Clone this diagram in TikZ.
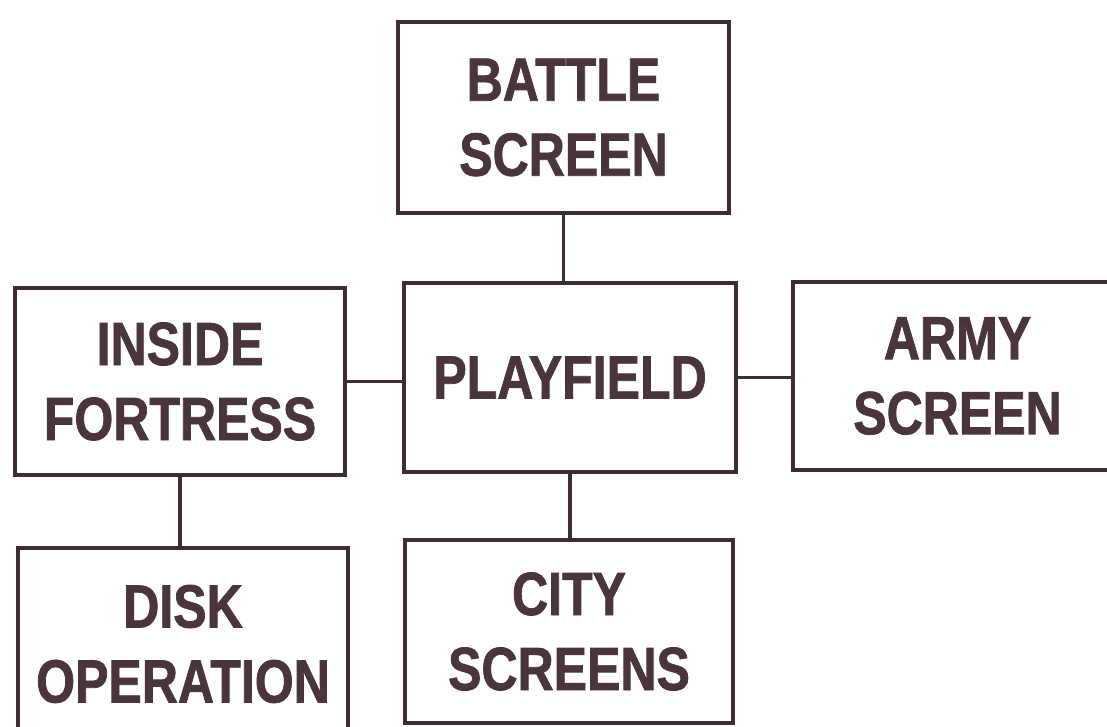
\documentclass[tikz,border=0pt]{standalone}
\usepackage{fontspec}
\newfontfamily\labfont{Liberation Sans}[FakeStretch=0.82, FakeBold=1.2]
\definecolor{ink}{HTML}{3E2C30}
\definecolor{txt}{HTML}{4A363A}
\begin{document}
\begin{tikzpicture}[x=1pt,y=-1pt,
  box/.style={draw=ink, line width=3.6pt, inner sep=0pt, align=center,
    text=txt, font=\labfont\bfseries\fontsize{61}{75}\selectfont},
  link/.style={draw=ink, line width=3.4pt}]
\clip (0,0) rectangle (1107,727);
\fill[white] (0,0) rectangle (1107,727);
\node[box, minimum width=331pt, minimum height=191pt] (battle) at (563.5,117.5) {BATTLE\\SCREEN};
\node[box, minimum width=332pt, minimum height=189pt] (play) at (570,377.5) {PLAYFIELD};
\node[box, minimum width=330pt, minimum height=187pt] (inside) at (180,381.5) {INSIDE\\FORTRESS};
\node[box, minimum width=329pt, minimum height=188pt] (army) at (957.5,376) {ARMY\\SCREEN};
\node[box, minimum width=330pt, minimum height=192pt] (disk) at (183,644) {DISK\\OPERATION};
\node[box, minimum width=328pt, minimum height=183pt] (city) at (569,631.5) {CITY\\SCREENS};
\draw[link] (battle.south) -- (battle.south |- play.north);
\draw[link] (inside.east) -- (inside.east -| play.west);
\draw[link] (play.east) -- (play.east -| army.west);
\draw[link] (inside.south) -- (inside.south |- disk.north);
\draw[link] (play.south) -- (play.south |- city.north);
\end{tikzpicture}
\end{document}
